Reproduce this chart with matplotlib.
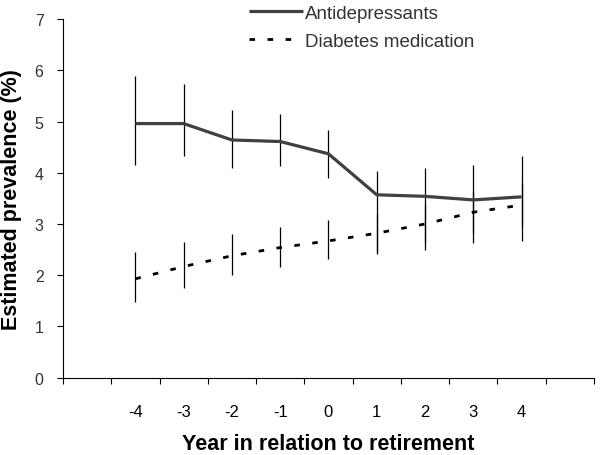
import numpy as np
import matplotlib
matplotlib.use("Agg")
import matplotlib.pyplot as plt

plt.rcParams["font.family"] = ["Liberation Sans", "DejaVu Sans"]

# Daten
years = [-4, -3, -2, -1, 0, 1, 2, 3, 4]

anti_est = [4.96, 4.96, 4.64, 4.61, 4.37, 3.57, 3.54, 3.47, 3.53]
anti_low = [4.16, 4.32, 4.10, 4.14, 3.90, 2.41, 2.50, 2.63, 2.67]
anti_high = [5.88, 5.73, 5.22, 5.14, 4.83, 4.04, 4.09, 4.16, 4.33]

diab_est = [1.93, 2.17, 2.38, 2.54, 2.67, 2.82, 3.00, 3.23, 3.37]
diab_low = [1.47, 1.76, 2.01, 2.17, 2.32, 2.45, 2.62, 2.83, 2.95]
diab_high = [2.45, 2.65, 2.80, 2.95, 3.08, 3.20, 3.40, 3.62, 3.80]

TEXT_COLOR = "#333333"

fig = plt.figure(figsize=(6.01, 4.56), dpi=100)
ax = fig.add_axes([0.1048, 0.1695, 0.8835, 0.7865])

# Fehlerbalken
ax.vlines(years, anti_low, anti_high, color="black", linewidth=0.9)
ax.vlines(years, diab_low, diab_high, color="black", linewidth=0.9)

ax.plot(years, anti_est, color="#404040", linewidth=2.3,
        label="Antidepressants", solid_capstyle="butt")
ax.plot(years, diab_est, color="black", linewidth=2.0,
        dashes=(2.0, 4.5), label="Diabetes medication")

ax.set_xlim(-5.5, 5.5)
ax.set_ylim(0, 7)

ax.set_xticks(np.arange(-5.5, 6.0, 1.0))
ax.set_xticklabels([])
ax.set_xticks(years, minor=True)
ax.set_xticklabels([str(y) for y in years], minor=True)
ax.tick_params(axis="x", which="major", direction="out", length=4, width=0.8)
ax.tick_params(axis="x", which="minor", length=0, pad=19,
               labelsize=12, labelcolor="black")

ax.set_yticks(range(0, 8))
ax.tick_params(axis="y", direction="out", length=4, width=0.8,
               labelsize=11.5, labelcolor=TEXT_COLOR, pad=10)

ax.spines["top"].set_visible(False)
ax.spines["right"].set_visible(False)

ax.set_ylabel("Estimated prevalence (%)", fontsize=15.5, fontweight="bold",
              labelpad=9)
ax.set_xlabel("Year in relation to retirement", fontsize=15.5,
              fontweight="bold", labelpad=10)

leg = fig.legend(loc="upper left", bbox_to_anchor=(0.386, 1.025),
                 frameon=False, fontsize=13.5, handlelength=2.9,
                 handletextpad=0.1, labelspacing=0.6)
for txt in leg.get_texts():
    txt.set_color(TEXT_COLOR)

fig.savefig("out.png", dpi=100)
